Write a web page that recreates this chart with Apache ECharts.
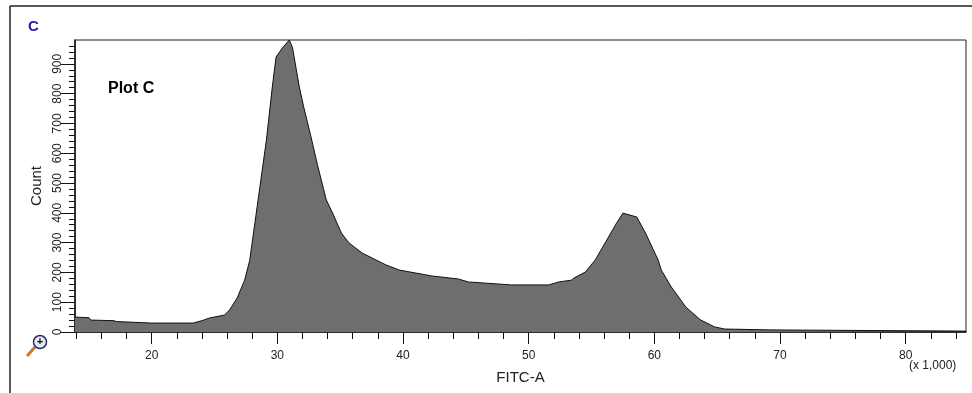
<!DOCTYPE html>
<html>
<head>
<meta charset="utf-8">
<script src="https://cdn.jsdelivr.net/npm/echarts@6/dist/echarts.min.js"></script>
<style>
  html, body { margin: 0; padding: 0; background: #fff; }
  #chart { width: 972px; height: 393px; }
</style>
</head>
<body>
<div id="chart"></div>
<script>
// FITC-A (x 1,000) and counts
const fitcValues = [13.9, 15.0, 15.2, 17.0, 17.2, 20.0, 23.3, 24.0, 24.6, 25.8, 26.2, 26.8, 27.4, 27.8,
    29.13, 29.6, 29.9, 30.4, 30.95, 31.2, 31.75, 32.1, 32.7, 33.2, 33.9, 34.4, 35.1, 35.7, 36.75,
    38.65, 39.7, 42.3, 44.4, 45.2, 48.65, 51.6, 52.4, 53.4, 53.6, 54.5, 55.3, 56.3, 57.0, 57.5,
    58.6, 59.3, 60.3, 60.55, 61.35, 61.7, 62.5, 63.5, 63.7, 64.8, 65.6, 69.3, 69.4, 84.8];
const countValues = [50, 48, 40, 38, 35, 30, 30, 38, 47, 57, 74, 114, 174, 240,
    644, 822, 923, 953, 980, 956, 822, 755, 651, 560, 443, 399, 332, 299, 265,
    225, 208, 188, 178, 168, 158, 158, 168, 174, 181, 201, 242, 315, 366, 399,
    386, 332, 242, 208, 151, 131, 84, 47, 40, 17, 10, 7, 3, 3];

const xMajorTicks = [20, 30, 40, 50, 60, 70, 80];
const xMinorTicks = [14, 16, 18, 22, 24, 26, 28, 32, 34, 36, 38, 42, 44, 46, 48, 52, 54, 56, 58,
    62, 64, 66, 68, 72, 74, 76, 78, 82, 84];
const yMajorTicks = [0, 100, 200, 300, 400, 500, 600, 700, 800, 900];
const yMinorTicks = [20, 40, 60, 80, 120, 140, 160, 180, 220, 240, 260, 280, 320, 340, 360, 380,
    420, 440, 460, 480, 520, 540, 560, 580, 620, 640, 660, 680, 720, 740, 760, 780,
    820, 840, 860, 880, 920, 940, 960];

const xMin = 13.9, xMax = 84.8, yMin = 0, yMax = 980;
const font = 'Arial, "Liberation Sans", sans-serif';

const chart = echarts.init(document.getElementById('chart'));

const seriesData = fitcValues.map((v, i) => [v, countValues[i]]);

chart.setOption({
    animation: false,
    backgroundColor: '#fff',
    grid: {
        left: 75, right: 6, top: 40, bottom: 61,
        show: true, borderColor: '#222', borderWidth: 1, backgroundColor: '#fff'
    },
    xAxis: [
        {
            type: 'value', min: xMin, max: xMax,
            name: 'FITC-A', nameLocation: 'middle', nameGap: 38,
            nameTextStyle: { fontFamily: font, fontSize: 15, color: '#222' },
            axisLine: { lineStyle: { color: '#111', width: 1.5 } },
            axisTick: { customValues: xMajorTicks, length: 12, lineStyle: { color: '#111' } },
            axisLabel: { customValues: xMajorTicks, margin: 18, fontFamily: font, fontSize: 12, color: '#222' },
            splitLine: { show: false }
        },
        {
            type: 'value', min: xMin, max: xMax, position: 'bottom',
            axisLine: { show: false },
            axisTick: { customValues: xMinorTicks, length: 7, lineStyle: { color: '#111' } },
            axisLabel: { show: false },
            splitLine: { show: false }
        }
    ],
    yAxis: [
        {
            type: 'value', min: yMin, max: yMax,
            name: 'Count', nameLocation: 'middle', nameGap: 30, nameRotate: 90,
            nameTextStyle: { fontFamily: font, fontSize: 15, color: '#222' },
            axisLine: { show: true, lineStyle: { color: '#111', width: 1.5 } },
            axisTick: { show: true, customValues: yMajorTicks, length: 14, lineStyle: { color: '#111' } },
            axisLabel: { customValues: yMajorTicks, rotate: 90, margin: 11, fontFamily: font, fontSize: 12, color: '#222' },
            splitLine: { show: false }
        },
        {
            type: 'value', min: yMin, max: yMax, position: 'left',
            axisLine: { show: false },
            axisTick: { show: true, customValues: yMinorTicks, length: 6, lineStyle: { color: '#111' } },
            axisLabel: { show: false },
            splitLine: { show: false }
        }
    ],
    series: [{
        type: 'line',
        xAxisIndex: 0,
        yAxisIndex: 0,
        data: seriesData,
        symbol: 'none',
        lineStyle: { color: '#111', width: 1 },
        areaStyle: { color: '#6e6e6e', opacity: 1 }
    }],
    graphic: [
        { type: 'line', shape: { x1: 10, y1: 6, x2: 972, y2: 6 }, style: { stroke: '#222', lineWidth: 1.5 } },
        { type: 'line', shape: { x1: 10, y1: 6, x2: 10, y2: 393 }, style: { stroke: '#222', lineWidth: 1.5 } },
        { type: 'text', left: 28, top: 19, style: { text: 'C', fill: '#1c1ca8', font: 'bold 15px ' + font } },
        { type: 'text', left: 108, top: 81, z: 10, style: { text: 'Plot C', fill: '#000', font: 'bold 16px ' + font } },
        { type: 'text', left: 909, top: 360, style: { text: '(x 1,000)', fill: '#222', font: '12px ' + font } },
        // zoom magnifier icon
        { type: 'line', shape: { x1: 35, y1: 347, x2: 27, y2: 356 }, style: { stroke: '#d2772a', lineWidth: 3 } },
        { type: 'circle', shape: { cx: 40, cy: 342, r: 6.5 }, style: { fill: '#e8e8f4', stroke: '#2a2a6a', lineWidth: 1.5 } },
        { type: 'text', x: 40, y: 342, style: { text: '+', fill: '#111', font: 'bold 11px ' + font, align: 'center', verticalAlign: 'middle' } }
    ]
});
</script>
</body>
</html>
